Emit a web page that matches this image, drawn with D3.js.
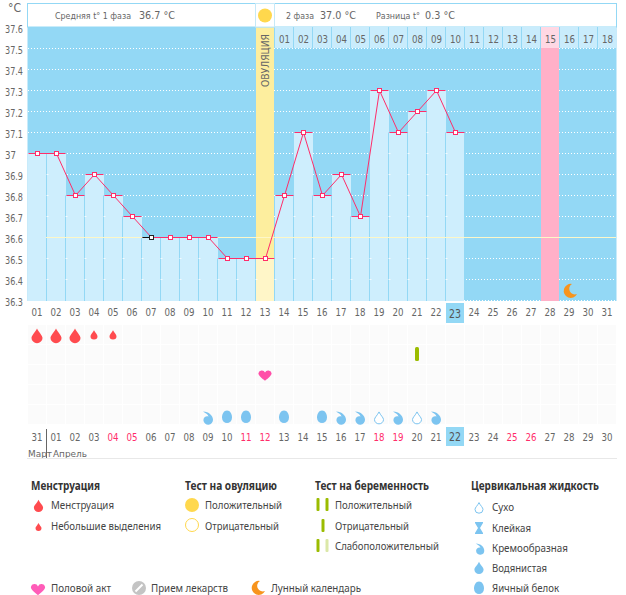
<!DOCTYPE html>
<html><head><meta charset="utf-8">
<script src="https://cdn.jsdelivr.net/npm/d3@7"></script>
<style>html,body{margin:0;padding:0;background:#fff}svg{display:block}</style>
</head><body><div id="c"></div>
<script>
const days = d3.range(1, 32);
const dayLabels = days.map(d => d3.format("02")(d));
const temps = [37.0,37.0,36.8,36.9,36.8,36.7,36.6,36.6,36.6,36.6,36.5,36.5,36.5,36.8,37.1,36.8,36.9,36.7,37.3,37.1,37.2,37.3,37.1];
const yTicks = [37.6,37.5,37.4,37.3,37.2,37.1,37,36.9,36.8,36.7,36.6,36.5,36.4,36.3];
const phase2Labels = ["01","02","03","04","05","06","07","08","09","10","11","12","13","14","15","16","17","18"];
const dateLabels = ["31","01","02","03","04","05","06","07","08","09","10","11","12","13","14","15","16","17","18","19","20","21","22","23","24","25","26","27","28","29","30"];
const redDates = ["04","05","11","12","18","19","25","26"];
const heavyDays = [1,2,3], lightDays = [4,5];
const heartDays = [13], stripDays = [21];
const creamyDays = [10,17,18,20,22], eggDays = [11,12,14,16], dryDays = [19,21];
const ovulationDay = 13, peakDay = 28, currentDay = 23, moonDay = 29, blackDay = 7;

const F = "'DejaVu Sans'";
const L = "'Noto Sans'";
const svg = d3.select("#c").append("svg").attr("width",626).attr("height",595);
const x = d3.scaleBand().domain(days).range([27.5,616.5]);
const y = d3.scaleLinear().domain([36.3,37.6]).range([300,27]);
const BG="#93d8f5", BAR="#ceeefd", TXT="#666", RED="#ff2d6a";
const text=(g,px,py,s,o={})=>g.append("text").attr("x",px).attr("y",py).text(s)
  .attr("font-family",o.f||F).attr("font-size",o.s||10).attr("fill",o.c||TXT)
  .attr("text-anchor",o.a||"start").attr("font-weight",o.w||"normal")
  .attr("textLength",o.l||null).attr("lengthAdjust",o.l?"spacingAndGlyphs":null);

const drop=r=>`M0,${-r*1.35}C${r*.35},${-r*.6} ${r},${-r*.1} ${r},${r*.35}A${r},${r*.95} 0 1 1 ${-r},${r*.35}C${-r},${-r*.1} ${-r*.35},${-r*.6} 0,${-r*1.35}Z`;
const heart=r=>`M0,${r*.95}C${-r*.5},${r*.55} ${-r*1.1},${r*.1} ${-r*1.1},${-r*.3}A${r*.58},${r*.58} 0 0 1 0,${-r*.4}A${r*.58},${r*.58} 0 0 1 ${r*1.1},${-r*.3}C${r*1.1},${r*.1} ${r*.5},${r*.55} 0,${r*.95}Z`;
const moon="M2,-7A7,7 0 1 0 7,3A5.6,5.6 0 0 1 2,-7Z";
const cream="M-5,-6.5C1,-6.5 5,-2 5,1.5A4.8,4.8 0 0 1 -4.6,2.2C-4.6,-1 -1.5,-2.5 0.5,-1.5C0,-3.5 -2.5,-5 -5,-6.5Z";
const egg="M0,-6.5C3.2,-6.5 5,-3 5,0.5A5,5.5 0 0 1 -5,0.5C-5,-3 -3.2,-6.5 0,-6.5Z";
const px=v=>Math.round(v)+.5;

// plot background and dotted grid
svg.append("rect").attr("x",27.5).attr("y",27).attr("width",589).attr("height",274).attr("fill",BG);
yTicks.slice(1,-1).forEach(t=>svg.append("line").attr("x1",28).attr("x2",616).attr("y1",px(y(t))).attr("y2",px(y(t)))
  .attr("stroke","#fff").attr("stroke-dasharray","1 2"));
svg.append("line").attr("x1",464).attr("x2",616).attr("y1",300.5).attr("y2",300.5).attr("stroke","#fff").attr("stroke-dasharray","1 2");
// marked columns
svg.append("rect").attr("x",x(peakDay)+.5).attr("y",27).attr("width",18).attr("height",274).attr("fill","#ffb0c8");
svg.append("rect").attr("x",x(ovulationDay)+.5).attr("y",27).attr("width",18).attr("height",274).attr("fill","#fdee9e");
// bars
const bars=svg.append("g");
temps.forEach((t,i)=>{const d=i+1;
  bars.append("rect").attr("x",x(d)+.5).attr("y",px(y(t))).attr("width",d===temps.length?18:19).attr("height",301-px(y(t)))
   .attr("fill",d===ovulationDay?"#fff6c8":BAR);
});
temps.forEach((t,i)=>{const d=i+1;
  if(d>1) bars.append("line").attr("x1",x(d)).attr("x2",x(d)).attr("y1",Math.max(px(y(t)),px(y(temps[i-1])))).attr("y2",301).attr("stroke",BG);
  if(d>1) yTicks.slice(1,-1).filter(v=>y(v)>Math.max(y(t),y(temps[i-1]))+1).forEach(v=>
    bars.append("line").attr("x1",x(d)).attr("x2",x(d)+2).attr("y1",px(y(v))).attr("y2",px(y(v))).attr("stroke","#fff").attr("opacity",.8));
});
// cover line
svg.append("line").attr("x1",46).attr("x2",616).attr("y1",237.5).attr("y2",237.5).attr("stroke","#fdf7c8");

// header
const head=svg.append("g");
head.append("rect").attr("x",27.5).attr("y",3.5).attr("width",589).attr("height",23.5).attr("fill","#fff").attr("stroke",BG);
head.append("rect").attr("x",255.5).attr("y",3.5).attr("width",19).attr("height",23.5).attr("fill","#fff").attr("stroke","#c5e9f8");
head.append("circle").attr("cx",265).attr("cy",15.5).attr("r",7).attr("fill","#ffd84d");
text(head,55,19,"Средняя t° 1 фаза",{s:9,l:76});
text(head,139,19,"36.7 °С",{s:10.5,l:36});
text(head,286,19,"2 фаза",{s:9,l:28});
text(head,320,19,"37.0 °С",{s:10.5,l:36});
text(head,376,19,"Разница t°",{s:9,l:44});
text(head,425,19,"0.3 °С",{s:10.5,l:30});
phase2Labels.forEach((s,i)=>{const d=14+i;
  head.append("rect").attr("x",x(d)+.5).attr("y",27).attr("width",18).attr("height",21).attr("fill",d===peakDay?"#ffd8e4":"#c9ecfc");
  text(head,x(d)+10,43,s,{a:"middle",s:10,l:11});
});
svg.append("text").attr("transform","translate(269,87) rotate(-90)").text("ОВУЛЯЦИЯ")
  .attr("font-family",F).attr("font-size",10).attr("fill","#666").attr("textLength",53).attr("lengthAdjust","spacingAndGlyphs");

// temperature line
const mid=d=>x(d)+x.bandwidth()/2;
const line=d3.line().x((t,i)=>mid(i+1)+.5).y(t=>px(y(t)));
temps.forEach((t,i)=>{const d=i+1;
  svg.append("line").attr("x1",x(d)+1).attr("x2",x(d)+19).attr("y1",px(y(t))).attr("y2",px(y(t))).attr("stroke",RED);
  if(d===blackDay) svg.append("line").attr("x1",x(d)+1).attr("x2",mid(d)).attr("y1",px(y(t))).attr("y2",px(y(t))).attr("stroke","#111");
});
svg.append("path").attr("d",line(temps)).attr("fill","none").attr("stroke",RED).attr("stroke-width",1);
temps.forEach((t,i)=>{const d=i+1;
  svg.append("rect").attr("x",mid(d)-1.5).attr("y",px(y(t))-2).attr("width",4).attr("height",4).attr("fill","#fff")
   .attr("stroke",d===blackDay?"#222":RED).attr("stroke-width",1);
});
// y axis labels
text(svg,8,12,"°С",{s:13,l:13});
yTicks.forEach(t=>text(svg,5,y(t)+6,d3.format(t===37?"":".1f")(t),{s:10.5,l:t===37?11:18}));
svg.append("path").attr("d",moon).attr("transform",`translate(${mid(moonDay)+1},${291})`).attr("fill","#f7941d");

// day labels
svg.append("rect").attr("x",x(currentDay)+.5).attr("y",303).attr("width",18).attr("height",20).attr("fill",BG);
dayLabels.forEach((s,i)=>{const c=i+1===currentDay;
  text(svg,mid(i+1),c?318:316,s,{a:"middle",s:c?12:10,l:c?12:11,c:c?"#555":TXT});});

// icon rows
const rows=svg.append("g");
[325,345,365,385,405].forEach(ry=>days.forEach(d=>rows.append("rect").attr("x",x(d)+.5).attr("y",ry).attr("width",18).attr("height",19).attr("fill","#fbfbfb")));
heavyDays.forEach(d=>svg.append("path").attr("d",drop(5.5)).attr("transform",`translate(${mid(d)},336)`).attr("fill","#ff4b4f"));
lightDays.forEach(d=>svg.append("path").attr("d",drop(3.5)).attr("transform",`translate(${mid(d)},335)`).attr("fill","#ff4b4f"));
heartDays.forEach(d=>svg.append("path").attr("d",heart(6)).attr("transform",`translate(${mid(d)},375)`).attr("fill","#ff4fa8"));
stripDays.forEach(d=>svg.append("rect").attr("x",mid(d)-2).attr("y",347).attr("width",4).attr("height",14).attr("rx",1.5).attr("fill","#9bbc00"));
const B="#7cc4f0";
creamyDays.forEach(d=>svg.append("path").attr("d",cream).attr("transform",`translate(${mid(d)},418)`).attr("fill",B));
eggDays.forEach(d=>svg.append("path").attr("d",egg).attr("transform",`translate(${mid(d)},417)`).attr("fill",B));
dryDays.forEach(d=>svg.append("path").attr("d",drop(4.5)).attr("transform",`translate(${mid(d)},418)`).attr("fill","#fff").attr("stroke",B));

// date row
svg.append("rect").attr("x",x(currentDay)+.5).attr("y",427).attr("width",18).attr("height",19).attr("fill",BG);
dateLabels.forEach((s,i)=>{const c=i+1===currentDay;
  text(svg,mid(i+1),441,s,{a:"middle",s:c?12:10,l:c?12:11,c:redDates.includes(s)?RED:(c?"#555":TXT)});});
svg.append("line").attr("x1",46.5).attr("x2",46.5).attr("y1",429).attr("y2",459).attr("stroke","#666");
text(svg,28,457,"Март",{s:9.5,l:24});
text(svg,53,457,"Апрель",{s:9.5,l:34});
svg.append("line").attr("x1",27).attr("x2",617).attr("y1",458.5).attr("y2",458.5).attr("stroke","#e8e8e8");

// legend
const lg=svg.append("g");
const T=(px,py,s,l)=>text(lg,px,py,s,{f:L,s:11,c:"#444",l});
const H=(px,py,s,l)=>text(lg,px,py,s,{f:L,s:12,c:"#333",w:"bold",l});
H(31,490,"Менструация",69); H(185,490,"Тест на овуляцию",92); H(315,490,"Тест на беременность",114); H(471,490,"Цервикальная жидкость",128);
T(51,509,"Менструация",63); T(51,530,"Небольшие выделения",110);
lg.append("path").attr("d",drop(4.6)).attr("transform","translate(38.5,506)").attr("fill","#ff4b4f");
lg.append("path").attr("d",drop(3)).attr("transform","translate(38.5,527)").attr("fill","#ff4b4f");
lg.append("circle").attr("cx",192).attr("cy",505).attr("r",7).attr("fill","#ffd84d");
lg.append("circle").attr("cx",192).attr("cy",525).attr("r",6.5).attr("fill","#fff").attr("stroke","#ffd84d");
T(205,509,"Положительный",77); T(205,530,"Отрицательный",74);
[[318,498,"#9bbc00"],[327,498,"#9bbc00"],[323,519,"#9bbc00"],[318,539,"#9bbc00"],[327,539,"#dbe8a8"]].forEach(a=>{
  lg.append("rect").attr("x",a[0]-1.5).attr("y",a[1]).attr("width",3).attr("height",13).attr("rx",1).attr("fill",a[2]);
});
T(335,509,"Положительный",77); T(335,530,"Отрицательный",74); T(335,550,"Слабоположительный",104);
T(492,511,"Сухо",22); T(492,532,"Клейкая",39); T(492,552,"Кремообразная",76); T(492,572,"Водянистая",55); T(492,592,"Яичный белок",67);
lg.append("path").attr("d",drop(4)).attr("transform","translate(479,508)").attr("fill","#fff").attr("stroke",B);
lg.append("path").attr("d","M-4,-6H4V-5L1,0L4,5V6H-4V5L-1,0L-4,-5Z").attr("transform","translate(479,528)").attr("fill",B);
lg.append("path").attr("d",cream).attr("transform","translate(480,549) scale(.85)").attr("fill",B);
lg.append("path").attr("d",drop(4.6)).attr("transform","translate(479,568)").attr("fill",B);
lg.append("path").attr("d",egg).attr("transform","translate(479,588)").attr("fill",B);
lg.append("path").attr("d",heart(6.5)).attr("transform","translate(38,589)").attr("fill","#ff5cb8");
lg.append("circle").attr("cx",139).attr("cy",588).attr("r",7).attr("fill","#c4c4c4");
lg.append("line").attr("x1",135.5).attr("y1",591.5).attr("x2",142.5).attr("y2",584.5).attr("stroke","#fff").attr("stroke-width",2);
lg.append("path").attr("d",moon).attr("transform","translate(258,588)").attr("fill","#f7941d");
T(51,592,"Половой акт",60); T(151,592,"Прием лекарств",77); T(271,592,"Лунный календарь",90);
</script></body></html>
